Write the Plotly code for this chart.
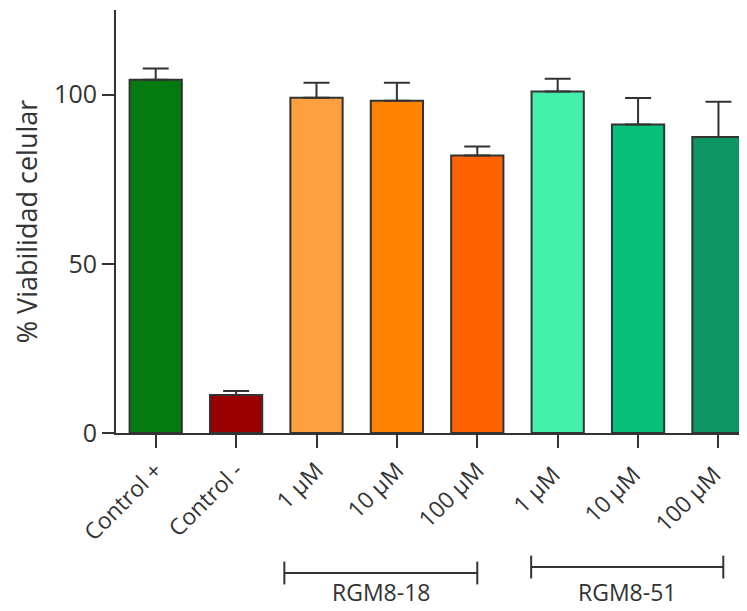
import plotly.graph_objects as go

categories = ["Control +", "Control -", "1 µM", "10 µM", "100 µM", "1 µM ", "10 µM ", "100 µM "]
values = [104.4, 11.2, 99.1, 98.2, 82.0, 100.9, 91.2, 87.5]
errors = [3.3, 1.2, 4.4, 5.3, 2.7, 3.8, 7.8, 10.4]
colors = ["#047A10", "#9B0000", "#FFA040", "#FF8200", "#FF6200", "#44EFAB", "#06C07A", "#0D9663"]
groups = [("RGM8-18", 2, 4), ("RGM8-51", 5, 7)]
y_ticks = [0, 50, 100]

FONT = "Open Sans"
INK = "#333333"

fig = go.Figure()
x = list(range(len(categories)))
fig.add_trace(go.Bar(
    x=x, y=values, width=0.65,
    marker=dict(color=colors, line=dict(color=INK, width=2)),
    error_y=dict(type="data", symmetric=False, array=errors,
                 arrayminus=[0] * len(errors), color=INK, thickness=2, width=13),
    showlegend=False,
))

# group brackets
bracket_y = [-0.331, -0.317]
for (name, i0, i1), by in zip(groups, bracket_y):
    x0 = i0 - 0.4
    x1 = i1
    if name == "RGM8-51":
        x0 = i0 - 0.33
        x1 = i1 + 0.06
    fig.add_shape(type="line", xref="x", yref="paper", x0=x0, x1=x1, y0=by, y1=by,
                  line=dict(color=INK, width=2))
    for xe in (x0, x1):
        fig.add_shape(type="line", xref="x", yref="paper", x0=xe, x1=xe,
                      y0=by - 0.027, y1=by + 0.027, line=dict(color=INK, width=2))
    fig.add_annotation(x=(x0 + x1) / 2, y=-0.419, xref="x", yref="paper", text=name,
                       showarrow=False, font=dict(family=FONT, size=23, color=INK),
                       xanchor="center", yanchor="bottom")

# page body has an 8px margin: shrink figure so it fits the 747x611 window
fig.update_layout(
    width=739, height=603,
    margin=dict(l=108, r=0, t=2, b=178),
    plot_bgcolor="white", paper_bgcolor="white",
    font=dict(family=FONT, color=INK),
)
fig.update_xaxes(
    range=[-0.494, 7.355], tickmode="array", tickvals=x, ticktext=categories,
    tickangle=-45, ticks="outside", ticklen=13, tickwidth=2, tickcolor=INK,
    showline=True, linecolor=INK, linewidth=2, showgrid=False, zeroline=False,
    tickfont=dict(family=FONT, size=23, color=INK),
)
fig.update_yaxes(
    range=[0, 125], tickmode="array", tickvals=y_ticks,
    ticks="outside", ticklen=12, tickwidth=2, tickcolor=INK,
    showline=True, linecolor=INK, linewidth=2, showgrid=False, zeroline=False,
    tickfont=dict(family=FONT, size=25, color=INK),
    title=dict(text="% Viabilidad celular", font=dict(family=FONT, size=27, color=INK), standoff=14),
)

fig.write_html("out.html")
